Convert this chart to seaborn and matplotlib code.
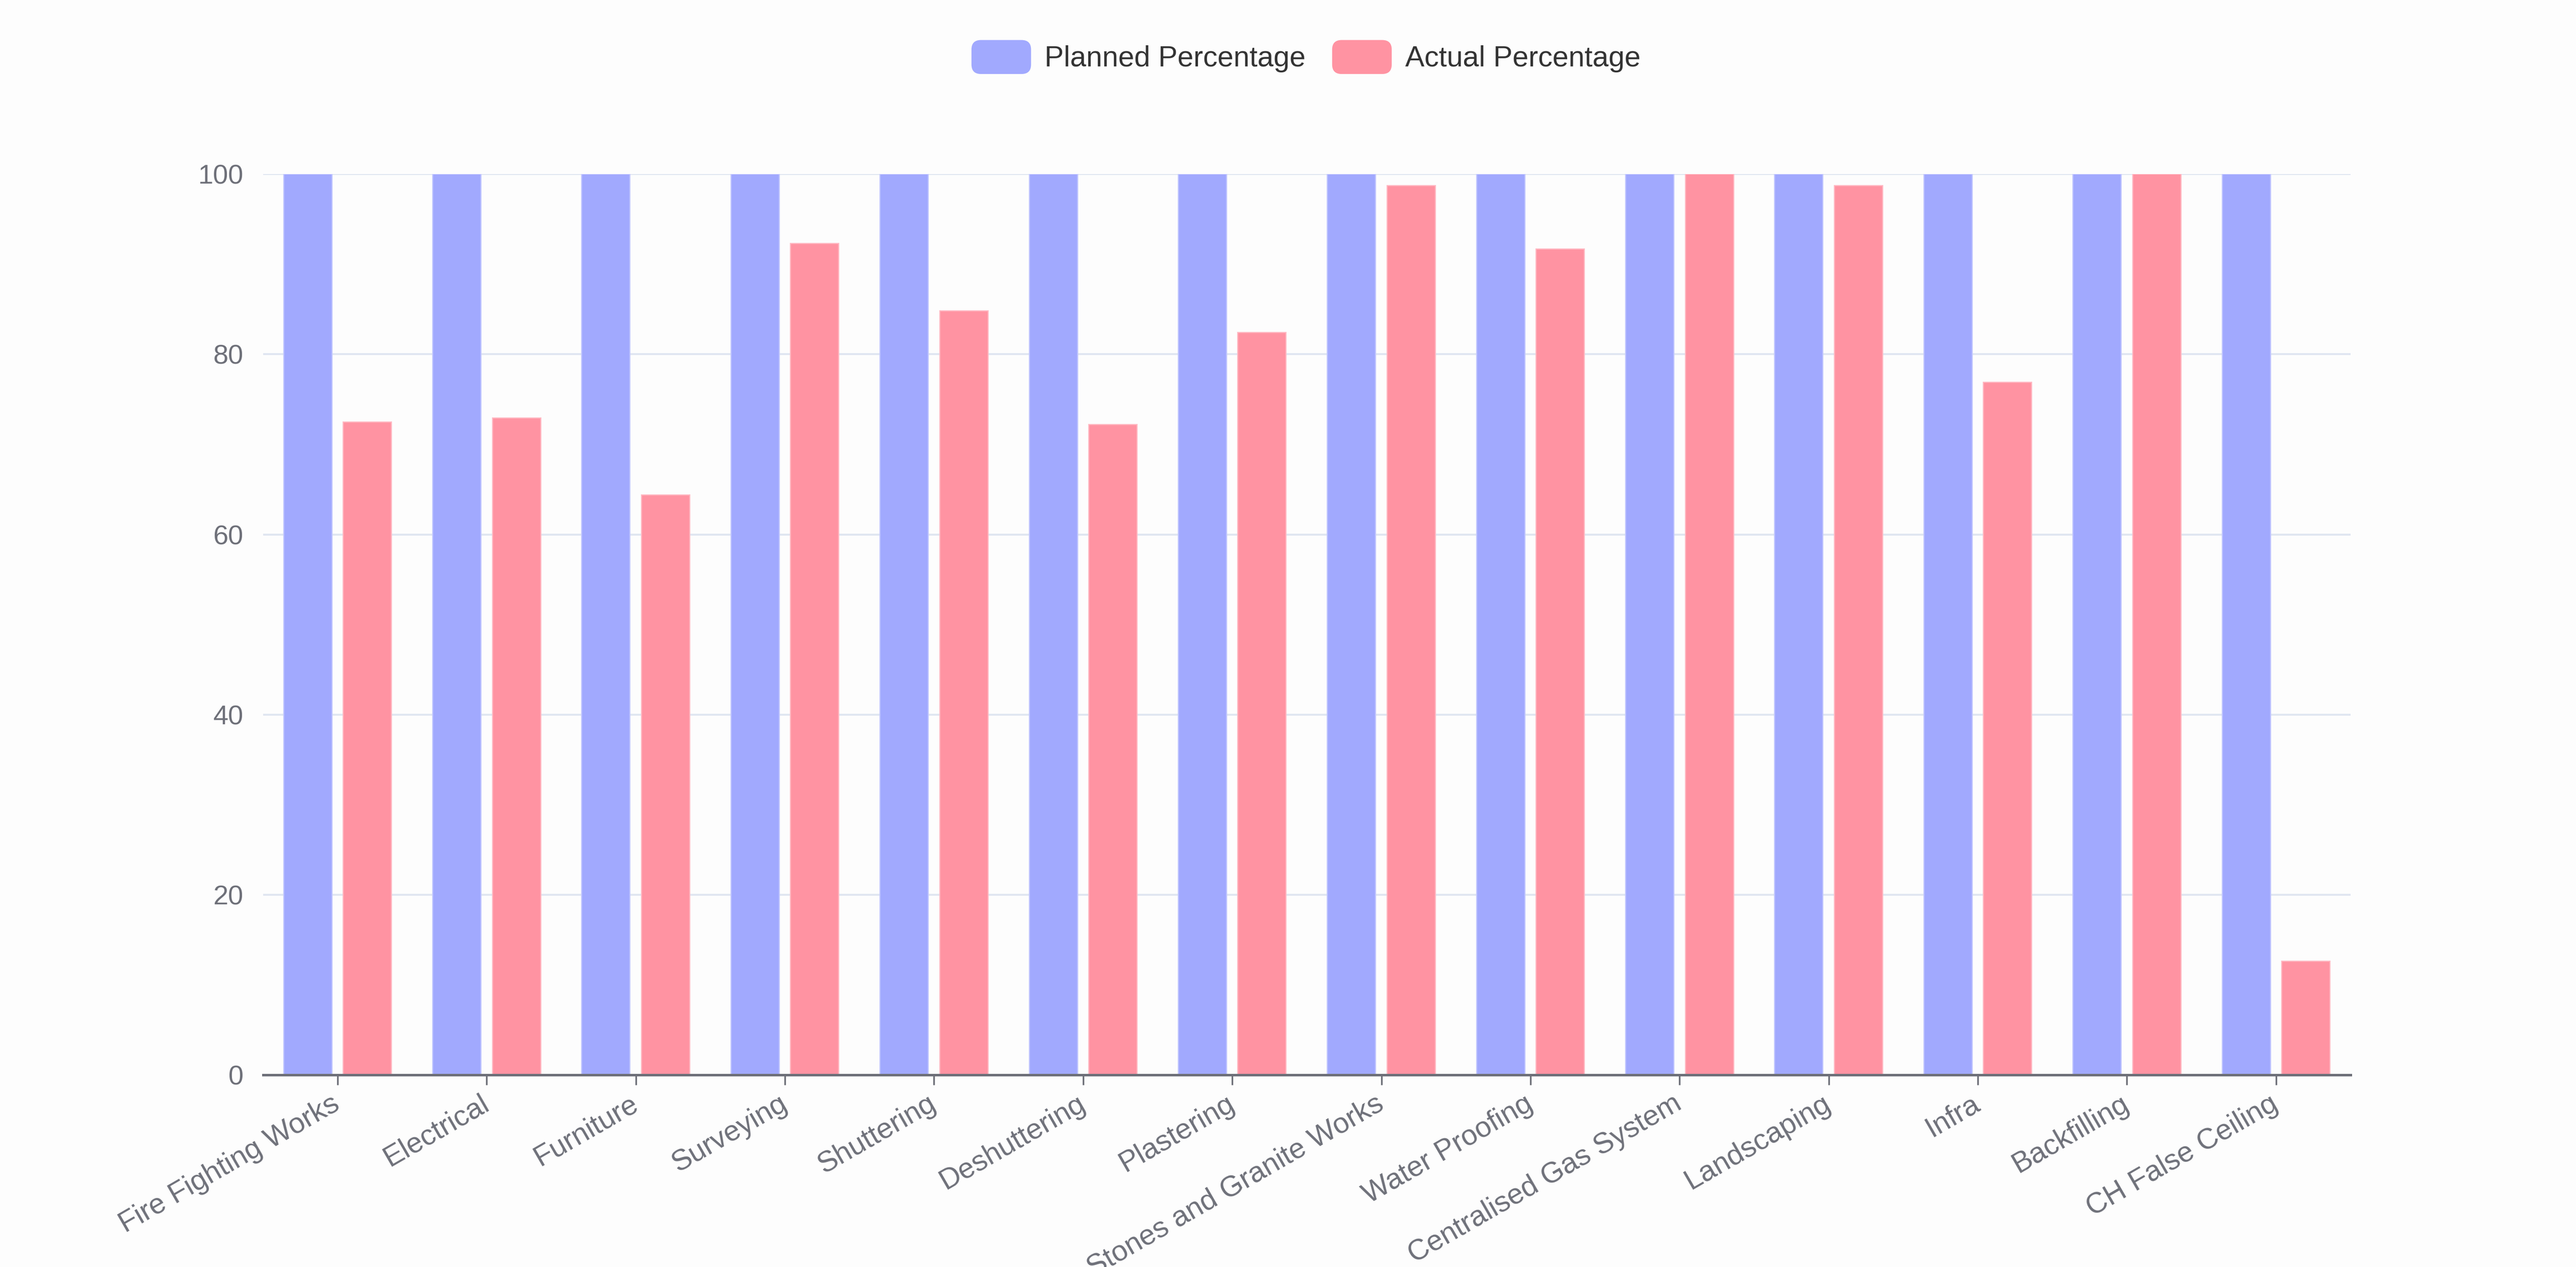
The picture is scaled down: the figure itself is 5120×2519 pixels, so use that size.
import matplotlib
matplotlib.use("Agg")
import matplotlib.pyplot as plt
import seaborn as sns
import pandas as pd
import matplotlib.colors as mcolors
from matplotlib.patches import FancyBboxPatch, Patch
from matplotlib.legend_handler import HandlerPatch

categories = ["Fire Fighting Works", "Electrical", "Furniture", "Surveying", "Shuttering",
              "Deshuttering", "Plastering", "Stones and Granite Works", "Water Proofing",
              "Centralised Gas System", "Landscaping", "Infra", "Backfilling", "CH False Ceiling"]
planned = [100, 100, 100, 100, 100, 100, 100, 100, 100, 100, 100, 100, 100, 100]
actual = [72.5, 72.9, 64.4, 92.3, 84.8, 72.2, 82.4, 98.7, 91.7, 100, 98.7, 76.9, 100, 12.6]
series_names = ["Planned Percentage", "Actual Percentage"]
series_colors = ["#A1A9FE", "#FF93A2"]
yticks = [0, 20, 40, 60, 80, 100]

df = pd.DataFrame({
    "Category": categories + categories,
    "Series": [series_names[0]] * len(categories) + [series_names[1]] * len(categories),
    "Value": planned + actual,
})

sns.set_theme(style="white")
plt.rcParams['font.family'] = ['Liberation Sans', 'DejaVu Sans']

BG = "#fdfdfd"
AX_COLOR = "#6E7079"

fig = plt.figure(figsize=(25.6, 12.595), dpi=200, facecolor=BG)
ax = fig.add_axes([0.1021, 0.1516, 0.8104, 0.711])
ax.set_facecolor(BG)

sns.barplot(data=df, x="Category", y="Value", hue="Series",
            palette=dict(zip(series_names, series_colors)), saturation=1,
            width=0.8, gap=0.19, ax=ax, legend=False, linewidth=0)

for p in ax.patches:
    fc = mcolors.to_rgb(p.get_facecolor())
    light = tuple(c + (1 - c) * 0.35 for c in fc)
    p.set_edgecolor(light)
    p.set_linewidth(0.8)

ax.set_xlim(-0.5, len(categories) - 0.5)
ax.set_ylim(0, 100)
ax.set_yticks(yticks)
ax.set_yticklabels([str(v) for v in yticks])
ax.set_xlabel("")
ax.set_ylabel("")

for s in ["top", "right", "left"]:
    ax.spines[s].set_visible(False)
ax.spines["bottom"].set_color(AX_COLOR)
ax.spines["bottom"].set_linewidth(1.8)

ax.yaxis.grid(True, color="#E0E6F1", linewidth=1.4)
ax.xaxis.grid(False)
ax.set_axisbelow(True)

ax.tick_params(axis="y", length=0, pad=14, labelsize=19.5, labelcolor=AX_COLOR)
ax.tick_params(axis="x", length=7.2, width=1.2, color=AX_COLOR, pad=12,
               labelsize=20.6, labelcolor=AX_COLOR, direction="out", bottom=True)
ax.set_xticks(range(len(categories)))
ax.set_xticklabels(categories)
for lbl in ax.get_xticklabels():
    lbl.set_rotation(30)
    lbl.set_ha("right")
    lbl.set_va("center")
    lbl.set_rotation_mode("anchor")


class HandlerRound(HandlerPatch):
    def create_artists(self, legend, orig_handle, xdescent, ydescent, width, height, fontsize, trans):
        p = FancyBboxPatch((-xdescent, -ydescent), width, height,
                           boxstyle=f"round,pad=0,rounding_size={height * 0.28}",
                           facecolor=orig_handle.get_facecolor(), edgecolor="none",
                           transform=trans)
        return [p]


handles = [Patch(facecolor=c, label=n) for n, c in zip(series_names, series_colors)]
fig.legend(handles=handles, loc="center", bbox_to_anchor=(0.507, 0.955), ncol=2,
           frameon=False, fontsize=20.6, handlelength=2.07, handleheight=1.44,
           handletextpad=0.47, columnspacing=0.92, labelcolor="#333333",
           handler_map={Patch: HandlerRound()})

fig.savefig("out.png", dpi=200, facecolor=BG)
